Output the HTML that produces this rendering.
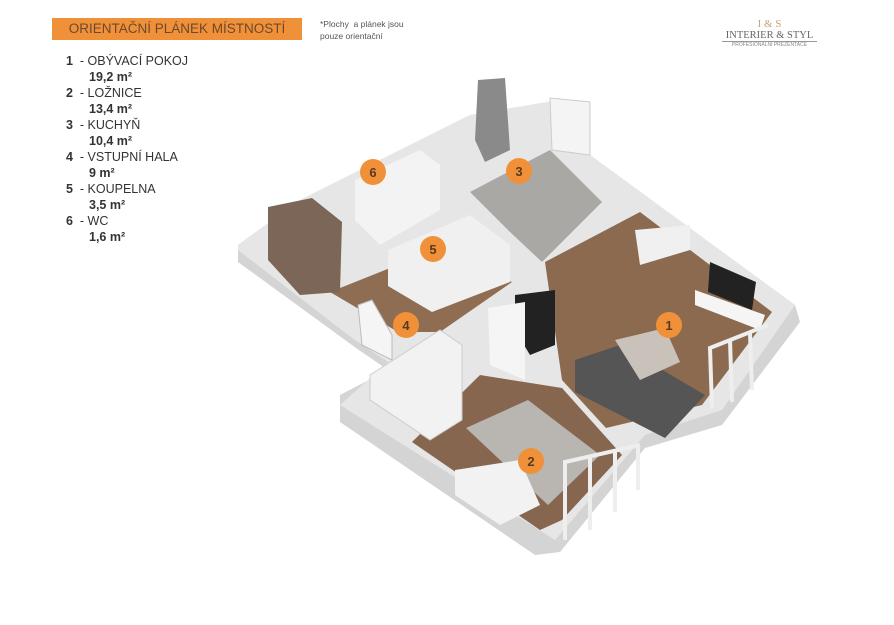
<!DOCTYPE html>
<html><head><meta charset="utf-8"><style>
html,body{margin:0;padding:0;background:#fff;}
body{width:894px;height:625px;position:relative;overflow:hidden;font-family:"Liberation Sans",sans-serif;}
.hdr{position:absolute;left:52px;top:18px;width:250px;height:22px;background:#f0913a;color:#6a4a2a;font-size:13.5px;line-height:22px;text-align:center;letter-spacing:0;}
.note{position:absolute;left:320px;top:18px;font-size:8.5px;color:#555;line-height:12px;}
.leg{position:absolute;left:66px;top:53px;font-size:12.5px;color:#333;line-height:16px;}
.leg b{font-weight:bold;}
.logo{position:absolute;left:722px;top:18px;width:95px;text-align:center;color:#666;}
</style></head><body>
<div class="hdr">ORIENTAČNÍ PLÁNEK MÍSTNOSTÍ</div>
<div class="note">*Plochy &nbsp;a plánek jsou<br>pouze orientační</div>
<div class="leg">
<div><b>1</b> &nbsp;- OBÝVACÍ POKOJ</div><div style="padding-left:23px"><b>19,2 m²</b></div>
<div><b>2</b> &nbsp;- LOŽNICE</div><div style="padding-left:23px"><b>13,4 m²</b></div>
<div><b>3</b> &nbsp;- KUCHYŇ</div><div style="padding-left:23px"><b>10,4 m²</b></div>
<div><b>4</b> &nbsp;- VSTUPNÍ HALA</div><div style="padding-left:23px"><b>9 m²</b></div>
<div><b>5</b> &nbsp;- KOUPELNA</div><div style="padding-left:23px"><b>3,5 m²</b></div>
<div><b>6</b> &nbsp;- WC</div><div style="padding-left:23px"><b>1,6 m²</b></div>
</div>
<div class="logo">
<div style="font-family:'Liberation Serif',serif;font-size:11px;color:#c9a27a">I &amp; S</div>
<div style="font-family:'Liberation Serif',serif;font-size:10.5px;border-bottom:1px solid #999;">INTERIER &amp; STYL</div>
<div style="font-size:5px;color:#888">PROFESIONÁLNÍ PREZENTACE</div>
</div>
<svg width="894" height="625" style="position:absolute;left:0;top:0">
<polygon points="238,245 300,200 400,150 470,115 560,100 590,155 795,305 800,322 722,425 645,448 560,552 535,555 340,422 340,395 388,370 356,348 238,262" fill="#d4d4d4"/>
<polygon points="238,245 300,200 400,150 470,115 560,100 590,155 795,305 722,410 645,435 555,540 340,405 388,362 352,338 238,250" fill="#e6e6e6"/>
<polygon points="545,262 640,212 772,312 702,405 606,428 562,380" fill="#8c6a4f"/>
<polygon points="412,442 480,375 562,388 622,455 562,520 540,530" fill="#876650"/>
<polygon points="466,428 528,400 600,455 548,505" fill="#b9b6b2"/>
<polygon points="330,292 430,252 512,282 440,332 398,332" fill="#8e6d52"/>
<polygon points="470,192 550,150 602,202 542,262 510,232" fill="#a9a8a5"/>
<polygon points="268,207 312,198 342,222 340,292 300,295 268,260" fill="#7b6657"/>
<polygon points="388,250 470,215 510,245 510,282 432,312 388,286" fill="#f0f0f0"/>
<polygon points="355,180 420,150 440,165 440,210 380,245 355,220" fill="#f3f3f3"/>
<polygon points="478,80 505,78 510,150 485,162 475,140" fill="#8a8a8a"/>
<polygon points="550,98 590,102 590,155 552,150" fill="#f4f4f4" stroke="#ccc"/>
<polygon points="370,375 440,330 462,345 462,420 430,440 370,400" fill="#f2f2f2" stroke="#ccc"/>
<polygon points="575,360 620,345 705,395 665,438 575,392" fill="#555"/>
<polygon points="615,340 665,328 680,362 640,380" fill="#c8c2bb"/>
<polygon points="710,262 756,282 752,310 708,292" fill="#222"/>
<polygon points="695,290 765,315 760,330 695,305" fill="#f5f5f5"/>
<polygon points="635,230 690,225 690,250 640,265" fill="#f0f0f0"/>
<polygon points="455,470 520,460 540,505 500,525 455,495" fill="#f2f2f2"/>
<polygon points="515,295 555,290 555,345 530,355 515,330" fill="#222"/>
<polygon points="488,308 525,302 525,380 490,365" fill="#f5f5f5"/>
<g fill="none" stroke="#eee" stroke-width="4">
<polyline points="565,540 565,462 640,445"/><line x1="590" y1="455" x2="590" y2="530"/><line x1="615" y1="450" x2="615" y2="512"/><line x1="638" y1="446" x2="638" y2="490"/>
<polyline points="712,408 710,348 768,325"/><line x1="730" y1="340" x2="732" y2="402"/><line x1="750" y1="333" x2="752" y2="390"/>
</g>
<polygon points="358,305 372,300 392,335 392,360 362,345" fill="#f5f5f5" stroke="#bbb"/>
<g fill="#f0913a"><circle cx="373" cy="172" r="13"/><circle cx="519" cy="171" r="13"/><circle cx="433" cy="249" r="13"/><circle cx="669" cy="325" r="13"/><circle cx="406" cy="325" r="13"/><circle cx="531" cy="461" r="13"/></g>
<g font-family="Liberation Sans" font-weight="bold" font-size="13" fill="#5a3a20" text-anchor="middle">
<text x="373" y="177">6</text><text x="519" y="176">3</text><text x="433" y="254">5</text><text x="669" y="330">1</text><text x="406" y="330">4</text><text x="531" y="466">2</text></g>
</svg>
</body></html>
